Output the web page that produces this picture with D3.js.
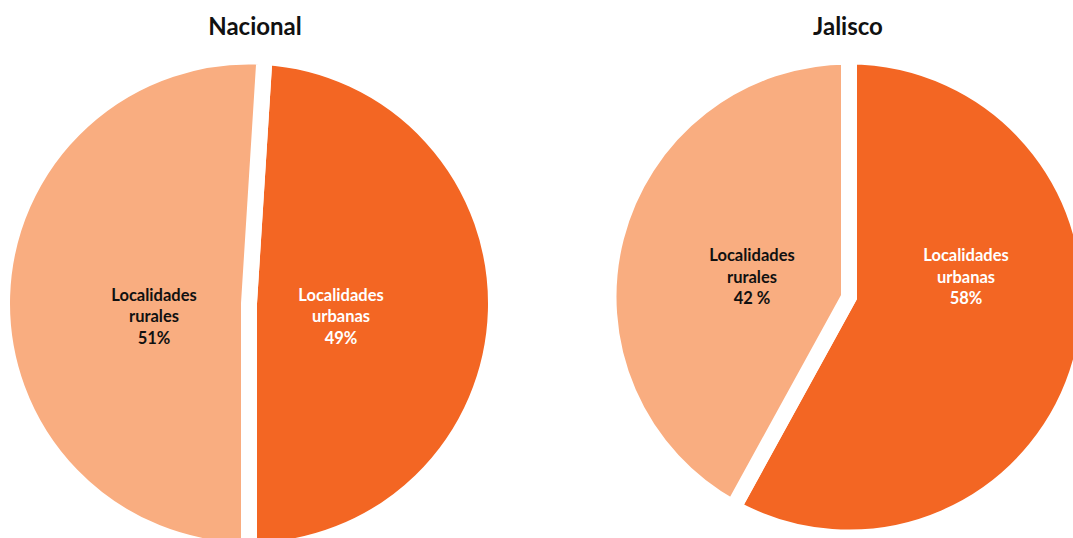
<!DOCTYPE html>
<html>
<head>
<meta charset="utf-8">
<script src="https://cdn.jsdelivr.net/npm/d3@7"></script>
<style>
  html, body { margin: 0; padding: 0; background: #ffffff; overflow: hidden; }
  svg { display: block; }
  text { font-family: Lato, "Open Sans", sans-serif; font-weight: 700; }
</style>
</head>
<body>
<svg id="chart" width="1073" height="538"></svg>
<script>
// Share of population by type of locality (%)
const regions = ["Nacional", "Jalisco"];
const categories = ["Localidades urbanas", "Localidades rurales"];
const urbanShare = [49, 58];
const ruralShare = [51, 42];
const urbanLabels = ["49%", "58%"];
const ruralLabels = ["51%", "42 %"];

// Layout of each pie: centre, visible radius, rotation of first slice (deg)
const layout = [
  { cx: 249, cy: 303.5, r: 239, rotation: 3.6, titleX: 255,
    labels: { urbanas: [92, 13], rurales: [-95, 13] } },
  { cx: 849, cy: 297, r: 232.5, rotation: 0, titleX: 848,
    labels: { urbanas: [117, -20], rurales: [-97, -20] } }
];

const colors = d3.scaleOrdinal()
  .domain(categories)
  .range(["#F36623", "#F9AD80"]);
const textColors = d3.scaleOrdinal()
  .domain(categories)
  .range(["#ffffff", "#111111"]);

const gap = 16;        // white separation between slices
const lineHeight = 21.7;

const svg = d3.select("#chart");

regions.forEach((region, i) => {
  const L = layout[i];
  const values = [
    { cat: categories[0], key: "urbanas", value: urbanShare[i], label: urbanLabels[i] },
    { cat: categories[1], key: "rurales", value: ruralShare[i], label: ruralLabels[i] }
  ];

  const start = L.rotation * Math.PI / 180;
  const pie = d3.pie()
    .sort(null)
    .value(d => d.value)
    .startAngle(start)
    .endAngle(start + 2 * Math.PI);

  const arc = d3.arc()
    .innerRadius(0)
    .outerRadius(L.r + gap / 2);

  const g = svg.append("g")
    .attr("transform", `translate(${L.cx},${L.cy})`);

  g.selectAll("path.slice")
    .data(pie(values))
    .join("path")
    .attr("class", "slice")
    .attr("d", arc)
    .attr("fill", d => colors(d.data.cat))
    .attr("stroke", "#ffffff")
    .attr("stroke-width", gap)
    .attr("stroke-linejoin", "miter")
    .attr("stroke-miterlimit", 10);

  // slice labels
  const lab = g.selectAll("text.lab")
    .data(values)
    .join("text")
    .attr("class", "lab")
    .attr("text-anchor", "middle")
    .attr("font-size", 16.5)
    .attr("fill", d => textColors(d.cat))
    .attr("transform", d => `translate(${L.labels[d.key][0]},${L.labels[d.key][1]})`);

  lab.each(function(d) {
    const words = d.cat.split(" ");
    const lines = [words[0], words[1], d.label];
    d3.select(this).selectAll("tspan")
      .data(lines)
      .join("tspan")
      .attr("x", 0)
      .attr("y", (t, k) => (k - 1) * lineHeight)
      .attr("dy", "0.35em")
      .text(t => t);
  });

  // title
  svg.append("text")
    .attr("x", L.titleX)
    .attr("y", 35)
    .attr("text-anchor", "middle")
    .attr("font-size", 24)
    .attr("fill", "#111111")
    .text(region);
});
</script>
</body>
</html>
